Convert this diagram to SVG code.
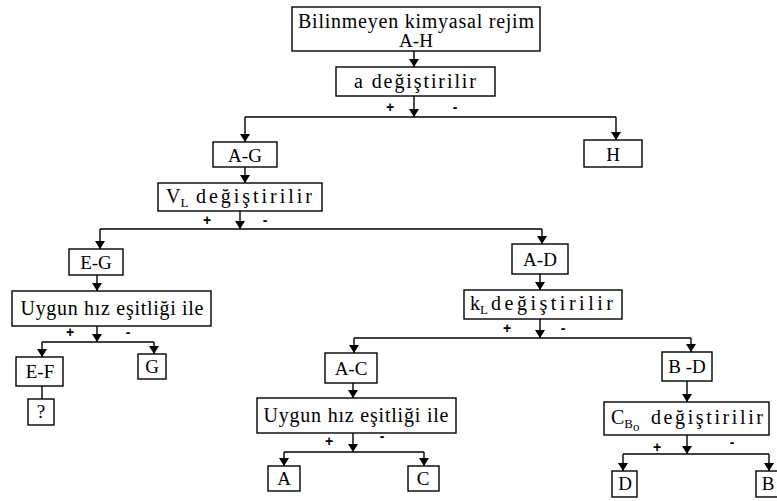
<svg xmlns="http://www.w3.org/2000/svg" width="777" height="501" viewBox="0 0 777 501">
<style>
.box{fill:#fff;stroke:#000;stroke-width:1.4}
.t{font-family:"Liberation Serif","DejaVu Serif",serif;font-size:19px;fill:#000;text-anchor:middle}
.w{font-size:20px}
.s{font-family:"Liberation Serif","DejaVu Serif",serif;font-size:13px;fill:#000}
.pm{font-family:"Liberation Sans","DejaVu Sans",sans-serif;font-size:14px;font-weight:bold;fill:#000;text-anchor:middle}
.c{fill:none;stroke:#000;stroke-width:1.4}
.a{fill:none;stroke:#000;stroke-width:1.4;marker-end:url(#ah)}
</style>
<defs>
<marker id="ah" markerUnits="userSpaceOnUse" viewBox="0 0 8 10" refX="8" refY="5" markerWidth="8" markerHeight="10" orient="auto">
<path d="M0,0 L8,5 L0,10 z" fill="#000"/>
</marker>
</defs>
<rect width="777" height="501" fill="#fff"/>
<g id="connectors">
<path class="a" d="M414,51 V67"/>
<path class="a" d="M414,96 V117"/>
<path class="c" d="M245,117 H616"/>
<path class="a" d="M245,117 V142"/>
<path class="a" d="M616,117 V140"/>
<path class="a" d="M245,167 V183"/>
<path class="a" d="M240,211 V229"/>
<path class="c" d="M100,229 H542"/>
<path class="a" d="M100,229 V249"/>
<path class="a" d="M542,229 V244"/>
<path class="a" d="M97,275 V291"/>
<path class="a" d="M97,326 V342"/>
<path class="c" d="M42,342 H154"/>
<path class="a" d="M42,342 V357"/>
<path class="a" d="M154,342 V354"/>
<path class="c" d="M42,386 V399"/>
<path class="a" d="M540,274 V290"/>
<path class="a" d="M540,319 V338"/>
<path class="c" d="M354,338 H691"/>
<path class="a" d="M354,338 V353"/>
<path class="a" d="M691,338 V352"/>
<path class="a" d="M353,383 V398"/>
<path class="a" d="M353,433 V452"/>
<path class="c" d="M284,452 H424"/>
<path class="a" d="M284,452 V466"/>
<path class="a" d="M424,452 V466"/>
<path class="a" d="M687,381 V402"/>
<path class="a" d="M687,435 V454"/>
<path class="c" d="M623,454 H769"/>
<path class="a" d="M623,454 V471"/>
<path class="a" d="M769,454 V471"/>
<text class="pm" x="390" y="112">+</text><text class="pm" x="455" y="112">-</text>
<text class="pm" x="207" y="225">+</text><text class="pm" x="265" y="225">-</text>
<text class="pm" x="70" y="337">+</text><text class="pm" x="128" y="337">-</text>
<text class="pm" x="507" y="333">+</text><text class="pm" x="563" y="333">-</text>
<text class="pm" x="329" y="446">+</text><text class="pm" x="382" y="441">-</text>
<text class="pm" x="657" y="452">+</text><text class="pm" x="732" y="447">-</text>
</g>
<g id="n-root"><rect class="box" x="292" y="7" width="248" height="44"/>
<text class="t w" x="416" y="28" textLength="236" lengthAdjust="spacing">Bilinmeyen kimyasal rejim</text>
<text class="t" x="416" y="47">A-H</text></g>
<g id="n-a"><rect class="box" x="336" y="67" width="159" height="29"/>
<text class="t w" x="415" y="88" textLength="122" lengthAdjust="spacing">a  değiştirilir</text></g>
<g id="n-AG"><rect class="box" x="213" y="142" width="64" height="25"/>
<text class="t" x="245" y="162">A-G</text></g>
<g id="n-H"><rect class="box" x="584" y="140" width="58" height="27"/>
<text class="t" x="613" y="161">H</text></g>
<g id="n-VL"><rect class="box" x="158" y="183" width="164" height="28"/>
<text class="t w" x="166" y="203" style="text-anchor:start">V<tspan class="s" dy="4">L</tspan><tspan dy="-4" x="196" textLength="116" lengthAdjust="spacing">değiştirilir</tspan></text></g>
<g id="n-EG"><rect class="box" x="69" y="249" width="54" height="26"/>
<text class="t" x="96" y="269">E-G</text></g>
<g id="n-AD"><rect class="box" x="512" y="244" width="56" height="30"/>
<text class="t" x="540" y="266">A-D</text></g>
<g id="n-U1"><rect class="box" x="12" y="291" width="199" height="35"/>
<text class="t w" x="112" y="315" textLength="183" lengthAdjust="spacing">Uygun hız eşitliği ile</text></g>
<g id="n-EF"><rect class="box" x="16" y="357" width="47" height="29"/>
<text class="t" x="40" y="378">E-F</text></g>
<g id="n-G"><rect class="box" x="138" y="354" width="28" height="25"/>
<text class="t" x="152" y="373">G</text></g>
<g id="n-Q"><rect class="box" x="28" y="399" width="26" height="26"/>
<text class="t" x="41" y="418">?</text></g>
<g id="n-kL"><rect class="box" x="464" y="290" width="158" height="29"/>
<text class="t w" x="470" y="310" style="text-anchor:start">k<tspan class="s" dy="4">L</tspan><tspan dy="-4" x="491" textLength="122" lengthAdjust="spacing">değiştirilir</tspan></text></g>
<g id="n-AC"><rect class="box" x="325" y="353" width="52" height="30"/>
<text class="t" x="351" y="375">A-C</text></g>
<g id="n-BD"><rect class="box" x="662" y="352" width="50" height="29"/>
<text class="t" x="687" y="373">B -D</text></g>
<g id="n-U2"><rect class="box" x="257" y="398" width="199" height="35"/>
<text class="t w" x="356" y="422" textLength="185" lengthAdjust="spacing">Uygun hız eşitliği ile</text></g>
<g id="n-A"><rect class="box" x="268" y="466" width="32" height="25"/>
<text class="t" x="284" y="485">A</text></g>
<g id="n-C"><rect class="box" x="408" y="466" width="31" height="25"/>
<text class="t" x="423" y="485">C</text></g>
<g id="n-CB"><rect class="box" x="604" y="402" width="165" height="33"/>
<text class="t w" x="611" y="424" style="text-anchor:start">C<tspan class="s" dy="4">B</tspan><tspan class="s" dy="3" font-size="10">o</tspan><tspan dy="-7" x="651" textLength="112" lengthAdjust="spacing">değiştirilir</tspan></text></g>
<g id="n-D"><rect class="box" x="612" y="471" width="25" height="26"/>
<text class="t" x="625" y="490">D</text></g>
<g id="n-B"><rect class="box" x="756" y="471" width="24" height="26"/>
<text class="t" x="768" y="490">B</text></g>
</svg>
